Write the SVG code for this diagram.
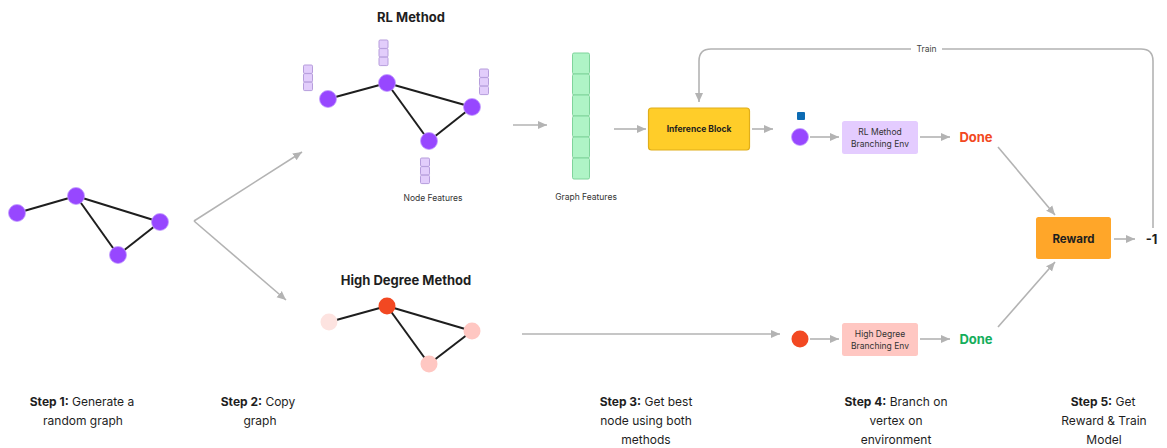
<svg xmlns="http://www.w3.org/2000/svg" xmlns:xlink="http://www.w3.org/1999/xlink" width="1167" height="448" viewBox="0 0 1167 448">
  <style>
    text { font-family: Inter, "Liberation Sans", sans-serif; fill: #1e1e1e; }
    .title { font-size: 13px; font-weight: 700; text-anchor: middle; }
    .small { font-size: 8.5px; fill: #333; text-anchor: middle; }
    .boxlbl { font-size: 8.5px; fill: #333; text-anchor: middle; }
    .step { font-size: 12px; text-anchor: middle; }
    .step tspan.b { font-weight: 700; }
    .done { font-size: 13px; font-weight: 700; text-anchor: middle; }
    .edge { stroke: #1e1e1e; stroke-width: 2; fill: none; }
    .pnode { fill: #9747ff; stroke: #c4a0ff; stroke-width: 0.8; }
    .conn { stroke: #b3b3b3; stroke-width: 1.6; fill: none; marker-end: url(#arr); }
    .cell { fill: #e2cdfb; stroke: #b69ddc; stroke-width: 1; }
    .gcell { fill: #aff4c6; stroke: #7fd49b; stroke-width: 1; }
  </style>
  <defs>
    <marker id="arr" markerUnits="userSpaceOnUse" markerWidth="10" markerHeight="10" viewBox="0 0 10 10" refX="9" refY="5" orient="auto">
      <path d="M0,1 L9,5 L0,9 z" fill="#b3b3b3"/>
    </marker>
    <g id="stack">
      <rect class="cell" x="0" y="0" width="9" height="8.4" rx="1.2"/>
      <rect class="cell" x="0" y="8.6" width="9" height="8.4" rx="1.2"/>
      <rect class="cell" x="0" y="17.2" width="9" height="8.4" rx="1.2"/>
    </g>
  </defs>

  <!-- connectors -->
  <g id="connectors">
    <path class="conn" d="M194,221 L302,152"/>
    <path class="conn" d="M194,221 L286,300"/>
    <path class="conn" d="M513,125 L547,125"/>
    <path class="conn" d="M614,129 L646,129"/>
    <path class="conn" d="M752,129 L773,129"/>
    <path class="conn" d="M810,137 L839,137"/>
    <path class="conn" d="M920,137 L950,137"/>
    <path class="conn" d="M998,147 L1055,215"/>
    <path class="conn" d="M522,334 L780,334"/>
    <path class="conn" d="M810,339 L839,339"/>
    <path class="conn" d="M920,339 L950,339"/>
    <path class="conn" d="M998,327 L1055,262"/>
    <path class="conn" d="M1114,239 L1135,239"/>
    <path class="conn" d="M1153,228 L1153,61 Q1153,49 1141,49 L711,49 Q699,49 699,61 L699,102"/>
    <rect x="911" y="43" width="31" height="12" fill="#fff"/>
    <text x="926.5" y="52" class="small" style="fill:#444">Train</text>
  </g>

  <!-- step 1: random graph -->
  <g id="graph-random">
    <line class="edge" x1="17" y1="213" x2="76" y2="196"/>
    <line class="edge" x1="76" y1="196" x2="160" y2="222"/>
    <line class="edge" x1="76" y1="196" x2="118" y2="255"/>
    <line class="edge" x1="118" y1="255" x2="160" y2="222"/>
    <circle class="pnode" cx="17" cy="213" r="8.5"/>
    <circle class="pnode" cx="76" cy="196" r="8.5"/>
    <circle class="pnode" cx="160" cy="222" r="8.5"/>
    <circle class="pnode" cx="118" cy="255" r="8.5"/>
  </g>

  <!-- RL method graph with node features -->
  <g id="graph-rl">
    <text x="411" y="22" class="title">RL Method</text>
    <line class="edge" x1="328" y1="99" x2="387" y2="83"/>
    <line class="edge" x1="387" y1="83" x2="472" y2="107"/>
    <line class="edge" x1="387" y1="83" x2="429" y2="141"/>
    <line class="edge" x1="429" y1="141" x2="472" y2="107"/>
    <circle class="pnode" cx="328" cy="99" r="8.5"/>
    <circle class="pnode" cx="387" cy="83" r="8.5"/>
    <circle class="pnode" cx="472" cy="107" r="8.5"/>
    <circle class="pnode" cx="429" cy="141" r="8.5"/>
    <use href="#stack" x="303.5" y="65"/>
    <use href="#stack" x="379" y="40"/>
    <use href="#stack" x="479.5" y="69"/>
    <use href="#stack" x="420.5" y="158"/>
    <text x="433" y="201" class="small">Node Features</text>
  </g>

  <!-- graph features column -->
  <g id="graph-features">
    <rect class="gcell" x="572.5" y="53" width="17" height="21" rx="1.5"/>
    <rect class="gcell" x="572.5" y="74" width="17" height="21" rx="1.5"/>
    <rect class="gcell" x="572.5" y="95" width="17" height="21" rx="1.5"/>
    <rect class="gcell" x="572.5" y="116" width="17" height="21" rx="1.5"/>
    <rect class="gcell" x="572.5" y="137" width="17" height="21" rx="1.5"/>
    <rect class="gcell" x="572.5" y="158" width="17" height="21" rx="1.5"/>
    <text x="586" y="200" class="small">Graph Features</text>
  </g>

  <!-- inference block -->
  <g id="inference-block">
    <rect x="648.5" y="108" width="101" height="42" rx="3" fill="#ffcd29" stroke="#e0ae1a" stroke-width="1.2"/>
    <text x="699" y="132" style="font-size:8.5px;font-weight:700;text-anchor:middle">Inference Block</text>
  </g>

  <!-- RL branching -->
  <g id="rl-choice">
    <rect x="797" y="112" width="8" height="8" rx="1" fill="#0c6bb3"/>
    <circle class="pnode" cx="800" cy="137" r="8.5"/>
  </g>
  <g id="rl-env">
    <rect x="842" y="121" width="76" height="33" rx="2.5" fill="#e4ccff"/>
    <text x="880" y="134.5" class="boxlbl">RL Method</text>
    <text x="880" y="147" class="boxlbl">Branching Env</text>
  </g>
  <g id="rl-done">
    <text x="976" y="142" class="done" style="fill:#f24822">Done</text>
  </g>

  <!-- high degree method graph -->
  <g id="graph-hd">
    <text x="406" y="285" class="title">High Degree Method</text>
    <line class="edge" x1="329" y1="322" x2="387" y2="306"/>
    <line class="edge" x1="387" y1="306" x2="472" y2="331"/>
    <line class="edge" x1="387" y1="306" x2="429" y2="364"/>
    <line class="edge" x1="429" y1="364" x2="472" y2="331"/>
    <circle cx="329" cy="322" r="8.5" fill="#fde3e0"/>
    <circle cx="387" cy="306" r="8.5" fill="#f24822"/>
    <circle cx="472" cy="331" r="8.5" fill="#ffc7c2"/>
    <circle cx="429" cy="364" r="8.5" fill="#ffc7c2"/>
  </g>

  <g id="hd-choice">
    <circle cx="800" cy="339" r="8.5" fill="#f24822"/>
  </g>
  <g id="hd-env">
    <rect x="842" y="323" width="76" height="33" rx="2.5" fill="#ffc7c2"/>
    <text x="880" y="336.5" class="boxlbl">High Degree</text>
    <text x="880" y="349" class="boxlbl">Branching Env</text>
  </g>
  <g id="hd-done">
    <text x="976" y="344" class="done" style="fill:#14ae5c">Done</text>
  </g>

  <!-- reward -->
  <g id="reward">
    <rect x="1036" y="217" width="75" height="42" rx="2.5" fill="#ffa629"/>
    <text x="1073.5" y="243" style="font-size:11.5px;font-weight:700;text-anchor:middle">Reward</text>
  </g>
  <g id="reward-value">
    <text x="1151.5" y="244" style="font-size:13px;font-weight:700;text-anchor:middle">-1</text>
  </g>

  <!-- step captions -->
  <g id="captions">
    <text class="step" x="82" y="406"><tspan class="b">Step 1:</tspan> Generate a</text>
    <text class="step" x="83" y="425">random graph</text>
    <text class="step" x="258" y="406"><tspan class="b">Step 2:</tspan> Copy</text>
    <text class="step" x="260" y="425">graph</text>
    <text class="step" x="646" y="406"><tspan class="b">Step 3:</tspan> Get best</text>
    <text class="step" x="646" y="425">node using both</text>
    <text class="step" x="646" y="444">methods</text>
    <text class="step" x="896" y="406"><tspan class="b">Step 4:</tspan> Branch on</text>
    <text class="step" x="896" y="425">vertex on</text>
    <text class="step" x="896" y="444">environment</text>
    <text class="step" x="1103" y="406"><tspan class="b">Step 5:</tspan> Get</text>
    <text class="step" x="1104" y="425">Reward &amp; Train</text>
    <text class="step" x="1104" y="444">Model</text>
  </g>
</svg>
